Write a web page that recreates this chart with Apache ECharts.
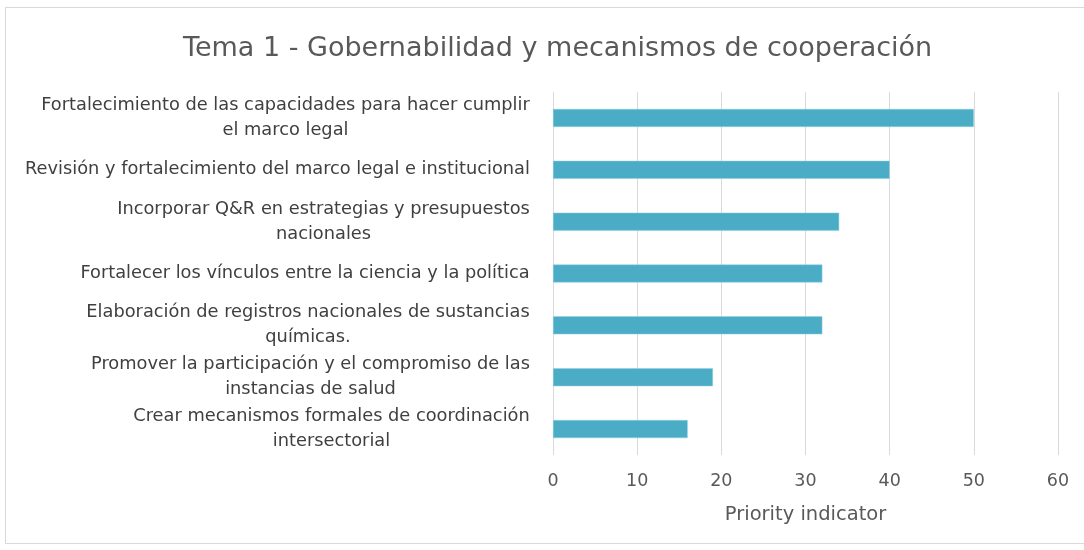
<!DOCTYPE html>
<html>
<head>
<meta charset="utf-8">
<script src="https://cdn.jsdelivr.net/npm/echarts@6/dist/echarts.min.js"></script>
<style>
    html, body { margin: 0; padding: 0; background: #fff; }
    #frame {
        position: absolute; left: 5px; top: 7px; width: 1090px; height: 537px;
        border: 1px solid #d9d9d9; box-sizing: border-box;
    }
    #chart { position: absolute; left: 0; top: 0; width: 1084px; height: 550px; }
</style>
</head>
<body>
<div id="frame"></div>
<div id="chart"></div>
<script>
var titleText = 'Tema 1 - Gobernabilidad y mecanismos de cooperación'
var axisName = 'Priority indicator'
var categories = [
    'Fortalecimiento de las capacidades para hacer cumplir\nel marco legal',
    'Revisión y fortalecimiento del marco legal e institucional',
    'Incorporar Q&R en estrategias y presupuestos\nnacionales',
    'Fortalecer los vínculos entre la ciencia y la política',
    'Elaboración de registros nacionales de sustancias\nquímicas.',
    'Promover la participación y el compromiso de las\ninstancias de salud',
    'Crear mecanismos formales de coordinación\nintersectorial'
]
var values = [50, 40, 34, 32, 32, 19, 16]
var xTicks = [0, 60, 10] // min, max, interval

var fontName = 'DejaVu Sans'
var labelSize = 17.8
var ctx = document.createElement('canvas').getContext('2d')
ctx.font = labelSize + 'px "' + fontName + '"'
// each label: lines centred inside a block that is right-aligned to the axis
var rich = {}
categories.forEach(function (c, i) {
    var w = 0
    c.split('\n').forEach(function (l) { w = Math.max(w, ctx.measureText(l).width) })
    rich['c' + i] = { width: Math.ceil(w), align: 'center', fontFamily: fontName, fontSize: labelSize, color: '#404040', lineHeight: 25 }
})

var myChart = echarts.init(document.getElementById('chart'))
var option = {
    animation: false,
    title: {
        text: titleText,
        left: 178,
        top: 30,
        textStyle: { fontFamily: fontName, fontSize: 27, fontWeight: 'normal', color: '#595959' }
    },
    grid: { left: 553, right: 26, top: 92, bottom: 95, containLabel: false },
    xAxis: {
        type: 'value',
        min: xTicks[0],
        max: xTicks[1],
        interval: xTicks[2],
        name: axisName,
        nameLocation: 'middle',
        nameGap: 50,
        nameTextStyle: { fontFamily: fontName, fontSize: 19.5, color: '#595959' },
        axisLine: { show: false },
        axisTick: { show: false },
        axisLabel: { margin: 17, fontFamily: fontName, fontSize: 17.5, color: '#595959' },
        splitLine: { show: true, lineStyle: { color: '#d9d9d9', width: 1 } }
    },
    yAxis: {
        type: 'category',
        inverse: true,
        data: categories,
        axisLine: { show: false },
        axisTick: { show: false },
        axisLabel: {
            margin: 23,
            formatter: function (v, i) {
                return v.split('\n').map(function (l) { return '{c' + i + '|' + l + '}' }).join('\n')
            },
            rich: rich
        }
    },
    series: [{
        type: 'bar',
        data: values,
        barWidth: 18,
        itemStyle: { color: '#4BACC6', borderColor: '#8fd0e0', borderWidth: 0.5 }
    }]
}
myChart.setOption(option)
</script>
</body>
</html>
